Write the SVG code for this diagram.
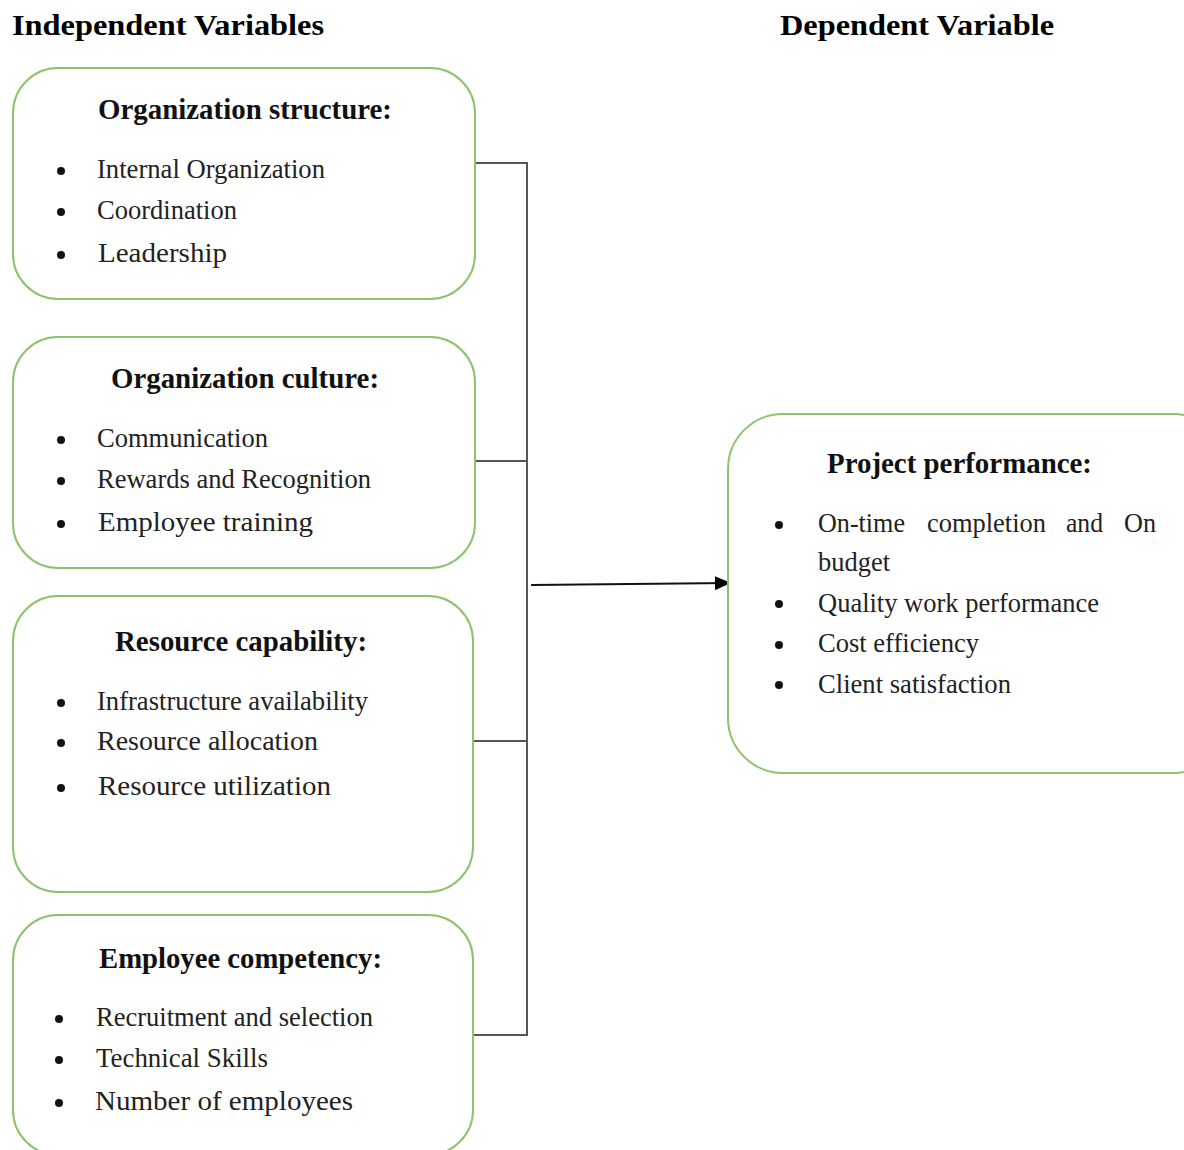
<svg xmlns="http://www.w3.org/2000/svg" width="1184" height="1150" viewBox="0 0 1184 1150">
<style>
.box{fill:#fff;stroke:#8dc46b;stroke-width:2}
.hd{font-family:"Liberation Serif","Times New Roman",serif;font-weight:bold;font-size:30px;fill:#000}
.h{font-family:"Liberation Serif","Times New Roman",serif;font-weight:bold;font-size:29px;fill:#111}
.t{font-family:"Liberation Serif","Times New Roman",serif;font-size:27.5px;fill:#222}
.b{fill:#111}
.c{stroke:#555;stroke-width:2;fill:none}
</style>
<defs>
<marker id="arr" markerWidth="16" markerHeight="14" refX="15" refY="7" orient="auto" markerUnits="userSpaceOnUse">
<path d="M0,0 L16,7 L0,14 z" fill="#000"/>
</marker>
</defs>
<rect width="1184" height="1150" fill="#fff"/>
<text class="hd" x="12" y="35" textLength="312" lengthAdjust="spacingAndGlyphs">Independent Variables</text>
<text class="hd" x="780" y="35" textLength="274" lengthAdjust="spacingAndGlyphs">Dependent Variable</text>

<g id="connectors">
<path class="c" d="M475,163 H527 V1035 H473"/>
<path class="c" d="M475,461 H527"/>
<path class="c" d="M473,741 H527"/>
<path d="M531,585 L730,583" stroke="#111" stroke-width="2" fill="none" marker-end="url(#arr)"/>
</g>

<g id="org-structure">
<rect class="box" x="13" y="68" width="462" height="231" rx="45"/>
<text class="h" x="98" y="119" textLength="294" lengthAdjust="spacingAndGlyphs">Organization structure:</text>
<circle class="b" cx="61" cy="171" r="4"/>
<circle class="b" cx="61" cy="212" r="4"/>
<circle class="b" cx="61" cy="255" r="4"/>
<text class="t" x="97" y="178" textLength="228" lengthAdjust="spacingAndGlyphs">Internal Organization</text>
<text class="t" x="97" y="219" textLength="140" lengthAdjust="spacingAndGlyphs">Coordination</text>
<text class="t" x="98" y="262" textLength="129" lengthAdjust="spacingAndGlyphs">Leadership</text>
</g>

<g id="org-culture">
<rect class="box" x="13" y="337" width="462" height="231" rx="45"/>
<text class="h" x="111" y="388" textLength="268" lengthAdjust="spacingAndGlyphs">Organization culture:</text>
<circle class="b" cx="61" cy="440" r="4"/>
<circle class="b" cx="61" cy="481" r="4"/>
<circle class="b" cx="61" cy="524" r="4"/>
<text class="t" x="97" y="447" textLength="171" lengthAdjust="spacingAndGlyphs">Communication</text>
<text class="t" x="97" y="488" textLength="274" lengthAdjust="spacingAndGlyphs">Rewards and Recognition</text>
<text class="t" x="98" y="531" textLength="215" lengthAdjust="spacingAndGlyphs">Employee training</text>
</g>

<g id="resource-capability">
<rect class="box" x="13" y="596" width="460" height="296" rx="45"/>
<text class="h" x="115" y="651" textLength="252" lengthAdjust="spacingAndGlyphs">Resource capability:</text>
<circle class="b" cx="61" cy="703" r="4"/>
<circle class="b" cx="61" cy="743" r="4"/>
<circle class="b" cx="61" cy="788" r="4"/>
<text class="t" x="97" y="710" textLength="271" lengthAdjust="spacingAndGlyphs">Infrastructure availability</text>
<text class="t" x="97" y="750" textLength="221" lengthAdjust="spacingAndGlyphs">Resource allocation</text>
<text class="t" x="98" y="795" textLength="233" lengthAdjust="spacingAndGlyphs">Resource utilization</text>
</g>

<g id="employee-competency">
<rect class="box" x="13" y="915" width="460" height="240" rx="45"/>
<text class="h" x="99" y="968" textLength="283" lengthAdjust="spacingAndGlyphs">Employee competency:</text>
<circle class="b" cx="59" cy="1019" r="4"/>
<circle class="b" cx="59" cy="1060" r="4"/>
<circle class="b" cx="59" cy="1103" r="4"/>
<text class="t" x="96" y="1026" textLength="277" lengthAdjust="spacingAndGlyphs">Recruitment and selection</text>
<text class="t" x="96" y="1067" textLength="172" lengthAdjust="spacingAndGlyphs">Technical Skills</text>
<text class="t" x="95" y="1110" textLength="258" lengthAdjust="spacingAndGlyphs">Number of employees</text>
</g>

<g id="project-performance">
<rect class="box" x="728" y="414" width="500" height="359" rx="55"/>
<text class="h" x="827" y="473" textLength="265" lengthAdjust="spacingAndGlyphs">Project performance:</text>
<circle class="b" cx="779" cy="525" r="4"/>
<circle class="b" cx="779" cy="604" r="4"/>
<circle class="b" cx="779" cy="645" r="4"/>
<circle class="b" cx="779" cy="685" r="4"/>
<text class="t" x="818" y="532" textLength="87" lengthAdjust="spacingAndGlyphs">On-time</text>
<text class="t" x="927" y="532" textLength="119" lengthAdjust="spacingAndGlyphs">completion</text>
<text class="t" x="1066" y="532" textLength="37" lengthAdjust="spacingAndGlyphs">and</text>
<text class="t" x="1124" y="532" textLength="32" lengthAdjust="spacingAndGlyphs">On</text>
<text class="t" x="818" y="571" textLength="72" lengthAdjust="spacingAndGlyphs">budget</text>
<text class="t" x="818" y="612" textLength="281" lengthAdjust="spacingAndGlyphs">Quality work performance</text>
<text class="t" x="818" y="652" textLength="161" lengthAdjust="spacingAndGlyphs">Cost efficiency</text>
<text class="t" x="818" y="693" textLength="193" lengthAdjust="spacingAndGlyphs">Client satisfaction</text>
</g>
</svg>
